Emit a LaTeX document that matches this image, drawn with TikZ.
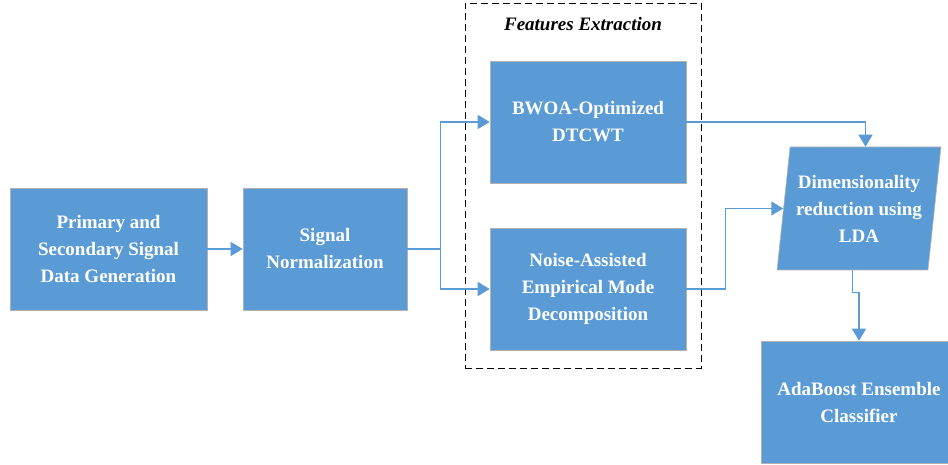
\documentclass[tikz,border=0pt]{standalone}
\usepackage{fontspec}
\setmainfont{Liberation Serif}
\usetikzlibrary{arrows.meta,shapes.geometric}
\definecolor{stageblue}{HTML}{5B9BD5}
\tikzset{
  stage/.style={draw=white!70!black, line width=0.6pt, fill=stageblue, text=white,
    font=\bfseries\fontsize{19}{27}\selectfont, align=center, minimum height=122},
  flow/.style={draw=stageblue, line width=1.5pt, -{Triangle[length=12pt,width=14pt]}}
}
\begin{document}
\begin{tikzpicture}[x=1pt,y=-1pt]
            \useasboundingbox (0,0) rectangle (948,465);
            \node[stage, minimum width=197] (gen) at (108.5,249) {Primary and\\Secondary Signal\\Data Generation};
            \node[stage, minimum width=164] (norm) at (325,249) {Signal\\Normalization};
            \node[draw, line width=0.8pt, dash pattern=on 7pt off 4pt, minimum width=236, minimum height=365, inner sep=0] (fe) at (583,185.5) {};
            \node[font=\bfseries\itshape\fontsize{19}{23}\selectfont] (fetitle) at (583,24) {Features Extraction};
            \node[stage, minimum width=196] (bwoa) at (588,122) {BWOA-Optimized\\DTCWT};
            \node[stage, minimum width=196] (emd) at (588,289) {Noise-Assisted\\Empirical Mode\\Decomposition};
            \node[stage, trapezium, trapezium left angle=80, trapezium right angle=100, trapezium stretches=true,
                  minimum width=164, minimum height=123, inner sep=0] (lda) at (859,208.5) {Dimensionality\\reduction using\\LDA};
            \node[stage, minimum width=196] (ada) at (859,402) {AdaBoost Ensemble\\Classifier};
            \draw[flow] (gen) -- (norm);
            \draw[flow] (norm.east) -- ++(33,0) |- (bwoa.west);
            \draw[flow] (norm.east) -- ++(33,0) |- (emd.west);
            \draw[flow] (bwoa.east) -| (lda.top side);
            \draw[flow] (emd.east) -- ++(39,0) |- (lda.left side);
            \draw[flow] (lda.bottom side) -- ++(0,22) -| (ada.north);
        \end{tikzpicture}
\end{document}
